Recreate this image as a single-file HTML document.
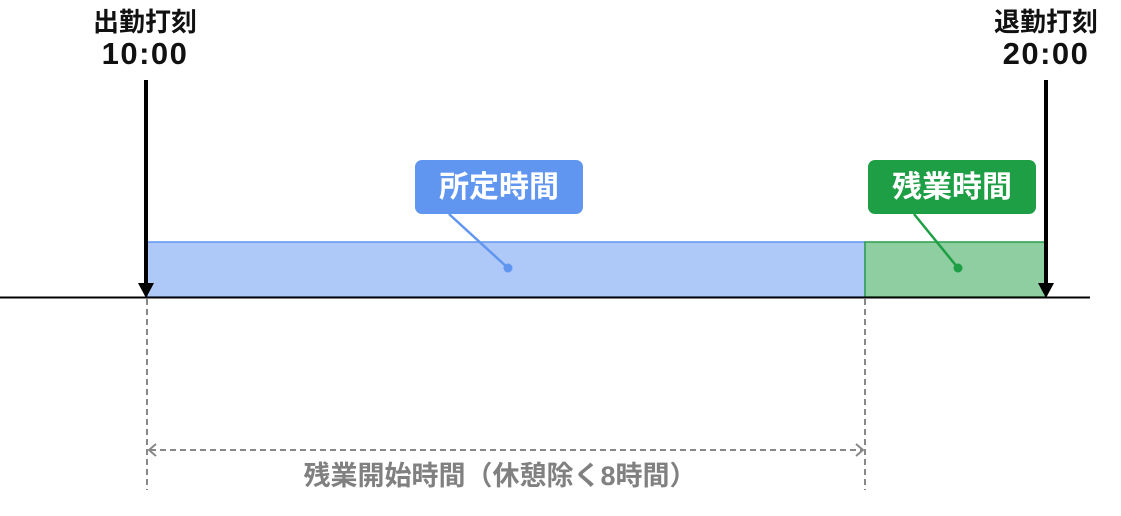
<!DOCTYPE html>
<html><head><meta charset="utf-8"><style>
body{margin:0;background:#fff;width:1121px;height:511px;overflow:hidden}
svg text{font-family:"Liberation Sans","Noto Sans CJK JP",sans-serif;font-weight:bold}
</style></head><body>
<svg width="1121" height="511" viewBox="0 0 1121 511" xmlns="http://www.w3.org/2000/svg">
<rect x="147" y="242" width="718" height="55" fill="#aec8f7" stroke="#6096f0" stroke-width="1.5"/>
<rect x="865" y="242" width="181" height="55" fill="#8fcea0" stroke="#2a9f4a" stroke-width="1.5"/>
<line x1="0" y1="297.5" x2="1090" y2="297.5" stroke="#000" stroke-width="2"/>
<g stroke="#888" stroke-width="2" stroke-dasharray="6,4" fill="none">
<line x1="147" y1="299" x2="147" y2="490"/>
<line x1="865" y1="299" x2="865" y2="490"/>
<line x1="150" y1="450" x2="862" y2="450"/>
<polyline points="156,444 149,450 156,456" stroke-dasharray="none"/>
<polyline points="856,444 863,450 856,456" stroke-dasharray="none"/>
</g>
<line x1="146" y1="80" x2="146" y2="285" stroke="#000" stroke-width="4"/>
<polygon points="138,283 154,283 146,298" fill="#000"/>
<line x1="1046" y1="80" x2="1046" y2="285" stroke="#000" stroke-width="4"/>
<polygon points="1038,283 1054,283 1046,298" fill="#000"/>
<rect x="415" y="160" width="168" height="54" rx="7" fill="#6096f0"/>
<line x1="449" y1="214" x2="508" y2="268" stroke="#6096f0" stroke-width="2.5"/>
<circle cx="508" cy="268" r="4.5" fill="#6096f0"/>
<text x="499" y="197" font-size="30" fill="#fff" text-anchor="middle">所定時間</text>
<rect x="868" y="160" width="168" height="54" rx="7" fill="#1e9e45"/>
<line x1="914" y1="214" x2="958" y2="268" stroke="#1e9e45" stroke-width="2.5"/>
<circle cx="958" cy="268" r="4.5" fill="#1e9e45"/>
<text x="952" y="197" font-size="30" fill="#fff" text-anchor="middle">残業時間</text>
<text x="145" y="31" font-size="26" fill="#111" text-anchor="middle">出勤打刻</text>
<text x="145" y="64" font-size="31" fill="#111" text-anchor="middle" letter-spacing="1.5">10:00</text>
<text x="1046" y="31" font-size="26" fill="#111" text-anchor="middle">退勤打刻</text>
<text x="1046" y="64" font-size="31" fill="#111" text-anchor="middle" letter-spacing="1.5">20:00</text>
<text x="500" y="485" font-size="27" fill="#808080" text-anchor="middle">残業開始時間（休憩除く8時間）</text>
</svg>
</body></html>
